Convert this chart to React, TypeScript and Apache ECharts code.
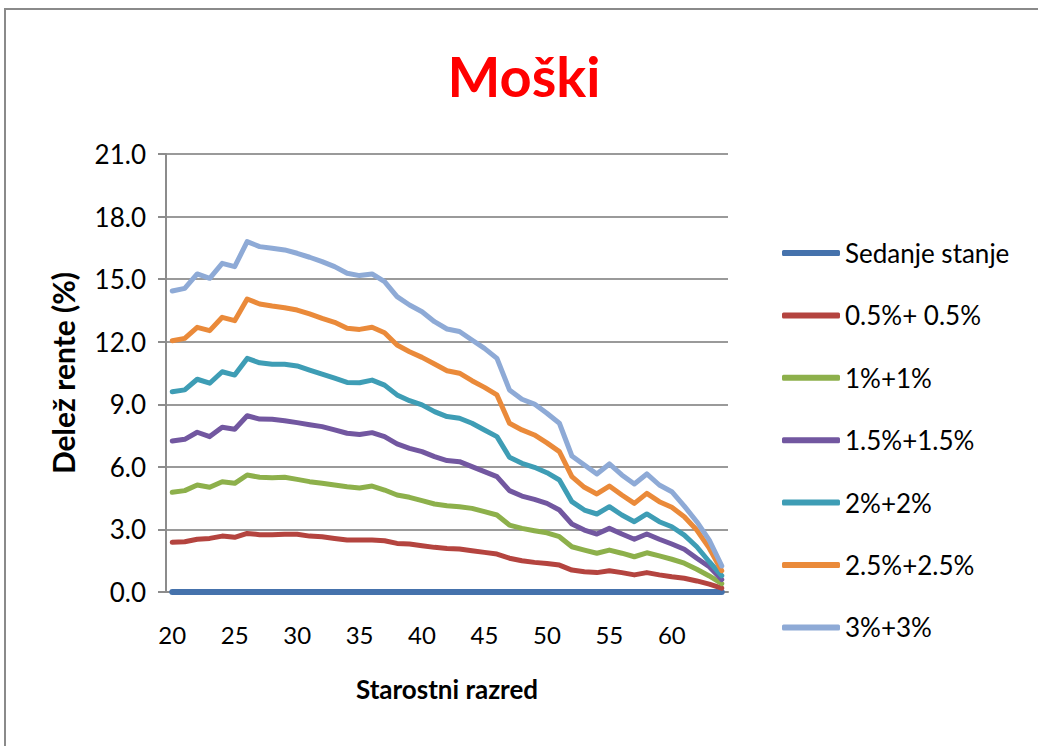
import React, { useEffect, useRef } from "react";
import * as echarts from "echarts";

const ages: string[] = [
  "20","21","22","23","24","25","26","27","28","29","30","31","32","33","34",
  "35","36","37","38","39","40","41","42","43","44","45","46","47","48","49",
  "50","51","52","53","54","55","56","57","58","59","60","61","62","63","64",
];

const seriesNames: string[] = ["Sedanje stanje", "0.5%+ 0.5%", "1%+1%", "1.5%+1.5%", "2%+2%", "2.5%+2.5%", "3%+3%"];

const sedanje: number[] = [
  0,0,0,0,0,0,0,0,0,0,0,0,0,0,0,
  0,0,0,0,0,0,0,0,0,0,0,0,0,0,0,
  0,0,0,0,0,0,0,0,0,0,0,0,0,0,0,
];
const p05: number[] = [
  2.38,2.41,2.53,2.57,2.68,2.62,2.81,2.75,2.75,2.77,2.77,2.68,2.65,2.57,2.49,
  2.49,2.49,2.46,2.33,2.30,2.22,2.14,2.09,2.06,1.98,1.90,1.82,1.62,1.50,1.42,
  1.37,1.29,1.05,0.97,0.93,1.02,0.93,0.82,0.93,0.82,0.73,0.66,0.53,0.38,0.18,
];
const p1: number[] = [
  4.78,4.86,5.13,5.02,5.29,5.21,5.61,5.50,5.48,5.50,5.40,5.29,5.21,5.13,5.05,
  4.99,5.08,4.89,4.65,4.54,4.38,4.22,4.14,4.09,4.01,3.85,3.69,3.21,3.05,2.94,
  2.84,2.65,2.17,2.01,1.86,2.01,1.86,1.69,1.88,1.73,1.57,1.38,1.09,0.77,0.40,
];
const p15: number[] = [
  7.24,7.32,7.66,7.45,7.90,7.80,8.45,8.29,8.28,8.21,8.12,8.02,7.93,7.77,7.61,
  7.55,7.64,7.45,7.10,6.89,6.73,6.49,6.30,6.25,6.01,5.77,5.53,4.86,4.60,4.44,
  4.25,3.93,3.26,2.97,2.78,3.05,2.78,2.53,2.78,2.53,2.30,2.05,1.62,1.21,0.60,
];
const p2: number[] = [
  9.60,9.69,10.20,10.01,10.56,10.40,11.20,10.99,10.92,10.92,10.84,10.64,10.45,10.25,10.05,
  10.03,10.16,9.92,9.45,9.17,8.97,8.65,8.41,8.33,8.09,7.77,7.45,6.46,6.17,5.98,
  5.72,5.37,4.33,3.93,3.74,4.09,3.69,3.37,3.74,3.37,3.13,2.73,2.17,1.45,0.78,
];
const p25: number[] = [
  12.05,12.16,12.69,12.53,13.17,13.01,14.05,13.81,13.71,13.63,13.52,13.33,13.12,12.93,12.64,
  12.59,12.69,12.43,11.84,11.52,11.25,10.93,10.61,10.49,10.13,9.81,9.45,8.09,7.77,7.53,
  7.15,6.73,5.53,5.02,4.70,5.08,4.65,4.25,4.73,4.33,4.06,3.61,2.97,2.10,1.02,
];
const p3: number[] = [
  14.43,14.56,15.25,15.04,15.76,15.60,16.80,16.56,16.48,16.40,16.24,16.05,15.84,15.60,15.28,
  15.17,15.25,14.88,14.16,13.76,13.44,12.96,12.61,12.49,12.08,11.68,11.20,9.69,9.24,9.01,
  8.57,8.09,6.52,6.09,5.66,6.14,5.61,5.18,5.66,5.13,4.81,4.12,3.37,2.49,1.25,
];

const seriesData: number[][] = [sedanje, p05, p1, p15, p2, p25, p3];
const colors: string[] = ["#4572AC", "#B4443F", "#8DB04B", "#7257A0", "#3E9DB5", "#EA8A3A", "#8EAAD6"];

const FONT = "Lato, 'Open Sans', sans-serif";

export default function App() {
  const ref = useRef<HTMLDivElement>(null);
  useEffect(() => {
    if (!ref.current) return;
    const chart = echarts.init(ref.current, undefined, { renderer: "svg" });
    chart.setOption({
      animation: false,
      backgroundColor: "#ffffff",
      textStyle: { fontFamily: FONT },
      graphic: [
        {
          type: "rect",
          silent: true,
          shape: { x: 5, y: 9, width: 1060, height: 780 },
          style: { fill: "none", stroke: "#8a8a8a", lineWidth: 2 },
        },
        {
          type: "text",
          x: 524,
          y: 75,
          style: {
            text: "Moški",
            fill: "#FF0000",
            font: `bold 56px ${FONT}`,
            textAlign: "center",
            textVerticalAlign: "middle",
          },
        },
      ],
      grid: { left: 166, right: 310, top: 154, bottom: 154, containLabel: false },
      legend: {
        orient: "vertical",
        left: 777,
        top: 235,
        icon: "roundRect",
        itemWidth: 58,
        itemHeight: 6,
        itemGap: 36.4,
        textStyle: { fontSize: 26, lineHeight: 26, color: "#000", fontFamily: FONT },
        data: seriesNames,
      },
      xAxis: {
        type: "category",
        data: ages,
        boundaryGap: true,
        name: "Starostni razred",
        nameLocation: "middle",
        nameGap: 84,
        nameTextStyle: { fontSize: 26, fontWeight: "bold", color: "#000", fontFamily: FONT },
        axisLine: { show: true, lineStyle: { color: "#8c8c8c", width: 2 } },
        axisTick: { show: false },
        axisLabel: {
          interval: (idx: number) => idx % 5 === 0,
          fontSize: 24,
          color: "#000",
          margin: 30,
          fontFamily: FONT,
        },
        splitLine: { show: false },
      },
      yAxis: {
        type: "value",
        min: 0,
        max: 21,
        interval: 3,
        name: "Delež rente (%)",
        nameLocation: "middle",
        nameGap: 88,
        nameRotate: 90,
        nameTextStyle: { fontSize: 30, fontWeight: "bold", color: "#000", fontFamily: FONT },
        axisLine: { show: true, lineStyle: { color: "#8c8c8c", width: 2 } },
        axisTick: { show: true, length: 8, lineStyle: { color: "#8c8c8c", width: 2 } },
        axisLabel: {
          formatter: (v: number) => v.toFixed(1),
          fontSize: 26,
          color: "#000",
          margin: 20,
          fontFamily: FONT,
        },
        splitLine: { show: true, lineStyle: { color: "#9a9a9a", width: 2 } },
      },
      series: seriesNames.map((name, i) => ({
        name,
        type: "line",
        data: seriesData[i],
        symbol: "none",
        showSymbol: false,
        clip: false,
        color: colors[i],
        lineStyle: { width: i === 0 ? 6 : 5, color: colors[i], cap: "round", join: "round" },
        emphasis: { disabled: true },
      })),
    });
    return () => chart.dispose();
  }, []);
  return (
    <div
      ref={ref}
      style={{ position: "absolute", left: 0, top: 0, width: 1038, height: 746 }}
    />
  );
}
